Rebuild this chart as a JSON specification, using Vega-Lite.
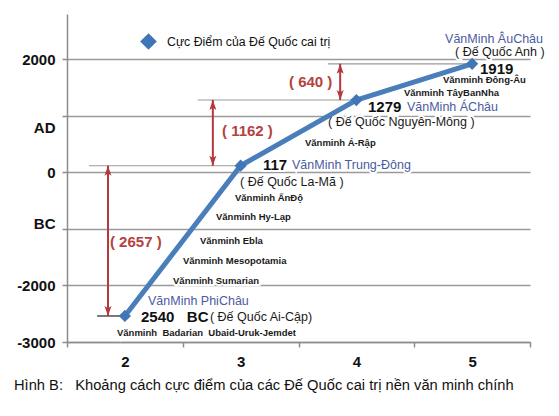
{
  "$schema": "https://vega.github.io/schema/vega-lite/v6.json",
  "autosize": {"type": "none"},
  "padding": {"left": 67, "top": 14, "right": 29, "bottom": 74},
  "width": 463,
  "height": 328,
  "background": "white",
  "config": {"view": {"stroke": null}, "font": "Liberation Sans"},
  "title": {
    "text": "Hình B:\u00a0\u00a0 Khoảng cách cực điểm của các Đế Quốc cai trị nền văn minh chính",
    "orient": "bottom",
    "anchor": "start",
    "frame": "group",
    "dx": -53,
    "offset": 9,
    "fontSize": 14.7,
    "fontWeight": "normal",
    "font": "Liberation Sans",
    "color": "#111111"
  },
  "datasets": {
    "peaks": [
      {"era": 2, "year": -2540, "series": "Cực Điểm của Đế Quốc cai trị"},
      {"era": 3, "year": 117, "series": "Cực Điểm của Đế Quốc cai trị"},
      {"era": 4, "year": 1279, "series": "Cực Điểm của Đế Quốc cai trị"},
      {"era": 5, "year": 1919, "series": "Cực Điểm của Đế Quốc cai trị"}
    ],
    "reflines": [
      {"x": 1.69, "x2": 3.0, "y": 117, "k": "gray"},
      {"x": 2.63, "x2": 4.0, "y": 1279, "k": "gray"},
      {"x": 3.755, "x2": 5.0, "y": 1919, "k": "gray"},
      {"x": 1.76, "x2": 2.0, "y": -2540, "k": "dark"}
    ],
    "gaps": [
      {"x": 1.854, "top": 117, "bottom": -2540},
      {"x": 2.76, "top": 1279, "bottom": 117},
      {"x": 3.86, "top": 1919, "bottom": 1279}
    ],
    "labels": [
      {"t": "VănMinh PhiChâu", "x": 2.2, "y": -2275, "k": "region"},
      {"t": "2540\u00a0\u00a0 BC", "x": 2.139, "y": -2558, "k": "date"},
      {"t": "( Đế Quốc Ai-Cập)", "x": 2.735, "y": -2558, "k": "empire"},
      {"t": "Vănminh\u00a0 Badarian\u00a0 Ubaid-Uruk-Jemdet", "x": 1.932, "y": -2841, "k": "civ"},
      {"t": "Vănminh Sumarian", "x": 2.416, "y": -1921, "k": "civ"},
      {"t": "Vănminh Mesopotamia", "x": 2.502, "y": -1568, "k": "civ"},
      {"t": "Vănminh Ebla", "x": 2.649, "y": -1214, "k": "civ"},
      {"t": "Vănminh Hy-Lạp", "x": 2.787, "y": -790, "k": "civ"},
      {"t": "Vănminh ẤnĐộ", "x": 2.951, "y": -454, "k": "civ"},
      {"t": "( Đế Quốc La-Mã )", "x": 2.995, "y": -171, "k": "empire"},
      {"t": "117", "x": 3.193, "y": 130, "k": "date"},
      {"t": "VănMinh Trung-Đông", "x": 3.444, "y": 130, "k": "region"},
      {"t": "Vănminh Á-Rập", "x": 3.556, "y": 519, "k": "civ"},
      {"t": "( Đế Quốc Nguyên-Mông )", "x": 3.755, "y": 890, "k": "empire"},
      {"t": "1279", "x": 4.1, "y": 1155, "k": "date"},
      {"t": "VănMinh ÁChâu", "x": 4.437, "y": 1155, "k": "region"},
      {"t": "Vănminh TâyBanNha", "x": 4.411, "y": 1403, "k": "civ"},
      {"t": "Vănminh Đông-Âu", "x": 4.748, "y": 1633, "k": "civ"},
      {"t": "1919", "x": 5.068, "y": 1835, "k": "date"},
      {"t": "VănMinh ÂuChâu", "x": 4.766, "y": 2350, "k": "region"},
      {"t": "( Đế Quốc Anh )", "x": 4.852, "y": 2135, "k": "empire"},
      {"t": "( 2657 )", "x": 1.871, "y": -1232, "k": "gap"},
      {"t": "( 1162 )", "x": 2.839, "y": 731, "k": "gap"},
      {"t": "( 640 )", "x": 3.418, "y": 1598, "k": "gap"}
    ]
  },
  "layer": [
    {
      "data": {"name": "reflines"},
      "mark": {"type": "rule", "strokeWidth": 1.2},
      "encoding": {
        "x": {
          "field": "x", "type": "quantitative",
          "scale": {"domain": [1.5, 5.5], "nice": false, "zero": false},
          "axis": {
            "title": null,
            "values": [1.5, 2, 2.5, 3, 3.5, 4, 4.5, 5, 5.5],
            "labelExpr": "datum.value % 1 === 0 ? ('' + datum.value) : ''",
            "tickOpacity": {"condition": {"test": "datum.value % 1 === 0", "value": 0}, "value": 1},
            "grid": false,
            "domainColor": "#8c8c8c",
            "domainWidth": 1.5,
            "tickColor": "#8c8c8c",
            "tickWidth": 1.5,
            "tickSize": 5,
            "labelFontSize": 15,
            "labelFontWeight": "bold",
            "labelFont": "Liberation Sans",
            "labelColor": "#111111",
            "labelPadding": 7
          }
        },
        "x2": {"field": "x2"},
        "y": {
          "field": "y", "type": "quantitative",
          "scale": {"domain": [-3000, 2800], "nice": false, "zero": false},
          "axis": {
            "title": null,
            "values": [-3000, -2000, -1000, 0, 1000, 2000],
            "labelExpr": "datum.value === 1000 ? 'AD' : (datum.value === -1000 ? 'BC' : ('' + datum.value))",
            "labelBaseline": {"condition": [{"test": "datum.value === 1000", "value": "line-top"}, {"test": "datum.value === -1000", "value": "alphabetic"}], "value": "middle"},
            "labelLineHeight": 26,
            "grid": true,
            "gridColor": "#9a9a9a",
            "gridWidth": 1.5,
            "domainColor": "#8c8c8c",
            "domainWidth": 1.5,
            "tickColor": "#8c8c8c",
            "tickWidth": 1.5,
            "tickSize": 5,
            "labelFontSize": 15,
            "labelFontWeight": "bold",
            "labelFont": "Liberation Sans",
            "labelColor": "#111111",
            "labelPadding": 7
          }
        },
        "color": {
          "field": "k", "type": "nominal",
          "scale": {"domain": ["gray", "dark"], "range": ["#9a9a9a", "#222222"]},
          "legend": null
        }
      }
    },
    {
      "data": {"name": "labels"},
      "transform": [{"filter": "datum.k === 'date'"}],
      "mark": {"type": "text", "align": "left", "baseline": "middle", "fontWeight": "bold", "fontSize": 15, "font": "Liberation Sans", "stroke": "white", "strokeWidth": 4, "fill": "white"},
      "encoding": {"x": {"field": "x", "type": "quantitative"}, "y": {"field": "y", "type": "quantitative"}, "text": {"field": "t"}}
    },
    {
      "data": {"name": "labels"},
      "transform": [{"filter": "datum.k === 'region' || datum.k === 'empire'"}],
      "mark": {"type": "text", "align": "left", "baseline": "middle", "fontWeight": "normal", "fontSize": 12.5, "font": "Liberation Sans", "stroke": "white", "strokeWidth": 4, "fill": "white"},
      "encoding": {"x": {"field": "x", "type": "quantitative"}, "y": {"field": "y", "type": "quantitative"}, "text": {"field": "t"}}
    },
    {
      "data": {"name": "labels"},
      "transform": [{"filter": "datum.k === 'civ'"}],
      "mark": {"type": "text", "align": "left", "baseline": "middle", "fontWeight": "bold", "fontSize": 9.5, "font": "Liberation Sans", "stroke": "white", "strokeWidth": 4, "fill": "white"},
      "encoding": {"x": {"field": "x", "type": "quantitative"}, "y": {"field": "y", "type": "quantitative"}, "text": {"field": "t"}}
    },
    {
      "data": {"name": "peaks"},
      "mark": {"type": "line", "color": "#4a7ebb", "strokeWidth": 5},
      "encoding": {
        "x": {"field": "era", "type": "quantitative"},
        "y": {"field": "year", "type": "quantitative"}
      }
    },
    {
      "data": {"name": "peaks"},
      "mark": {"type": "point", "filled": true, "size": 150, "color": "#4176b6", "opacity": 1},
      "encoding": {
        "x": {"field": "era", "type": "quantitative"},
        "y": {"field": "year", "type": "quantitative"},
        "shape": {
          "field": "series", "type": "nominal",
          "scale": {"range": ["diamond"]},
          "legend": {
            "orient": "none",
            "legendX": 72,
            "legendY": 18,
            "title": null,
            "padding": 0,
            "symbolSize": 280,
            "labelFontSize": 12.3,
            "labelFont": "Liberation Sans",
            "labelColor": "#111111",
            "labelOffset": 9,
            "labelLimit": 0,
            "encode": {"symbols": {"update": {"fill": {"value": "#3c4cc0"}, "stroke": {"value": "#3c4cc0"}, "opacity": {"value": 1}}}}
          }
        }
      }
    },
    {
      "data": {"name": "labels"},
      "transform": [{"filter": "datum.k === 'date'"}],
      "mark": {"type": "text", "align": "left", "baseline": "middle", "fontWeight": "bold", "fontSize": 15, "font": "Liberation Sans", "color": "#111111"},
      "encoding": {"x": {"field": "x", "type": "quantitative"}, "y": {"field": "y", "type": "quantitative"}, "text": {"field": "t"}}
    },
    {
      "data": {"name": "labels"},
      "transform": [{"filter": "datum.k === 'region'"}],
      "mark": {"type": "text", "align": "left", "baseline": "middle", "fontWeight": "normal", "fontSize": 12.5, "font": "Liberation Sans", "color": "#4b5b9e"},
      "encoding": {"x": {"field": "x", "type": "quantitative"}, "y": {"field": "y", "type": "quantitative"}, "text": {"field": "t"}}
    },
    {
      "data": {"name": "labels"},
      "transform": [{"filter": "datum.k === 'empire'"}],
      "mark": {"type": "text", "align": "left", "baseline": "middle", "fontWeight": "normal", "fontSize": 12.5, "font": "Liberation Sans", "color": "#1a1a1a"},
      "encoding": {"x": {"field": "x", "type": "quantitative"}, "y": {"field": "y", "type": "quantitative"}, "text": {"field": "t"}}
    },
    {
      "data": {"name": "labels"},
      "transform": [{"filter": "datum.k === 'civ'"}],
      "mark": {"type": "text", "align": "left", "baseline": "middle", "fontWeight": "bold", "fontSize": 9.5, "font": "Liberation Sans", "color": "#1a1a1a"},
      "encoding": {"x": {"field": "x", "type": "quantitative"}, "y": {"field": "y", "type": "quantitative"}, "text": {"field": "t"}}
    },
    {
      "data": {"name": "labels"},
      "transform": [{"filter": "datum.k === 'gap'"}],
      "mark": {"type": "text", "align": "left", "baseline": "middle", "fontWeight": "bold", "fontSize": 15, "font": "Liberation Sans", "color": "#b5423f"},
      "encoding": {"x": {"field": "x", "type": "quantitative"}, "y": {"field": "y", "type": "quantitative"}, "text": {"field": "t"}}
    },
    {
      "data": {"name": "gaps"},
      "mark": {"type": "rule", "color": "#b5373f", "strokeWidth": 2},
      "encoding": {
        "x": {"field": "x", "type": "quantitative"},
        "y": {"field": "top", "type": "quantitative"},
        "y2": {"field": "bottom"}
      }
    },
    {
      "data": {"name": "gaps"},
      "mark": {"type": "point", "filled": true, "opacity": 1, "color": "#b5373f", "size": 100, "shape": "M0,-1L-0.7,1L0,0.55L0.7,1Z", "yOffset": 5},
      "encoding": {
        "x": {"field": "x", "type": "quantitative"},
        "y": {"field": "top", "type": "quantitative"}
      }
    },
    {
      "data": {"name": "gaps"},
      "mark": {"type": "point", "filled": true, "opacity": 1, "color": "#b5373f", "size": 100, "shape": "M0,1L-0.7,-1L0,-0.55L0.7,-1Z", "yOffset": -5},
      "encoding": {
        "x": {"field": "x", "type": "quantitative"},
        "y": {"field": "bottom", "type": "quantitative"}
      }
    }
  ]
}
